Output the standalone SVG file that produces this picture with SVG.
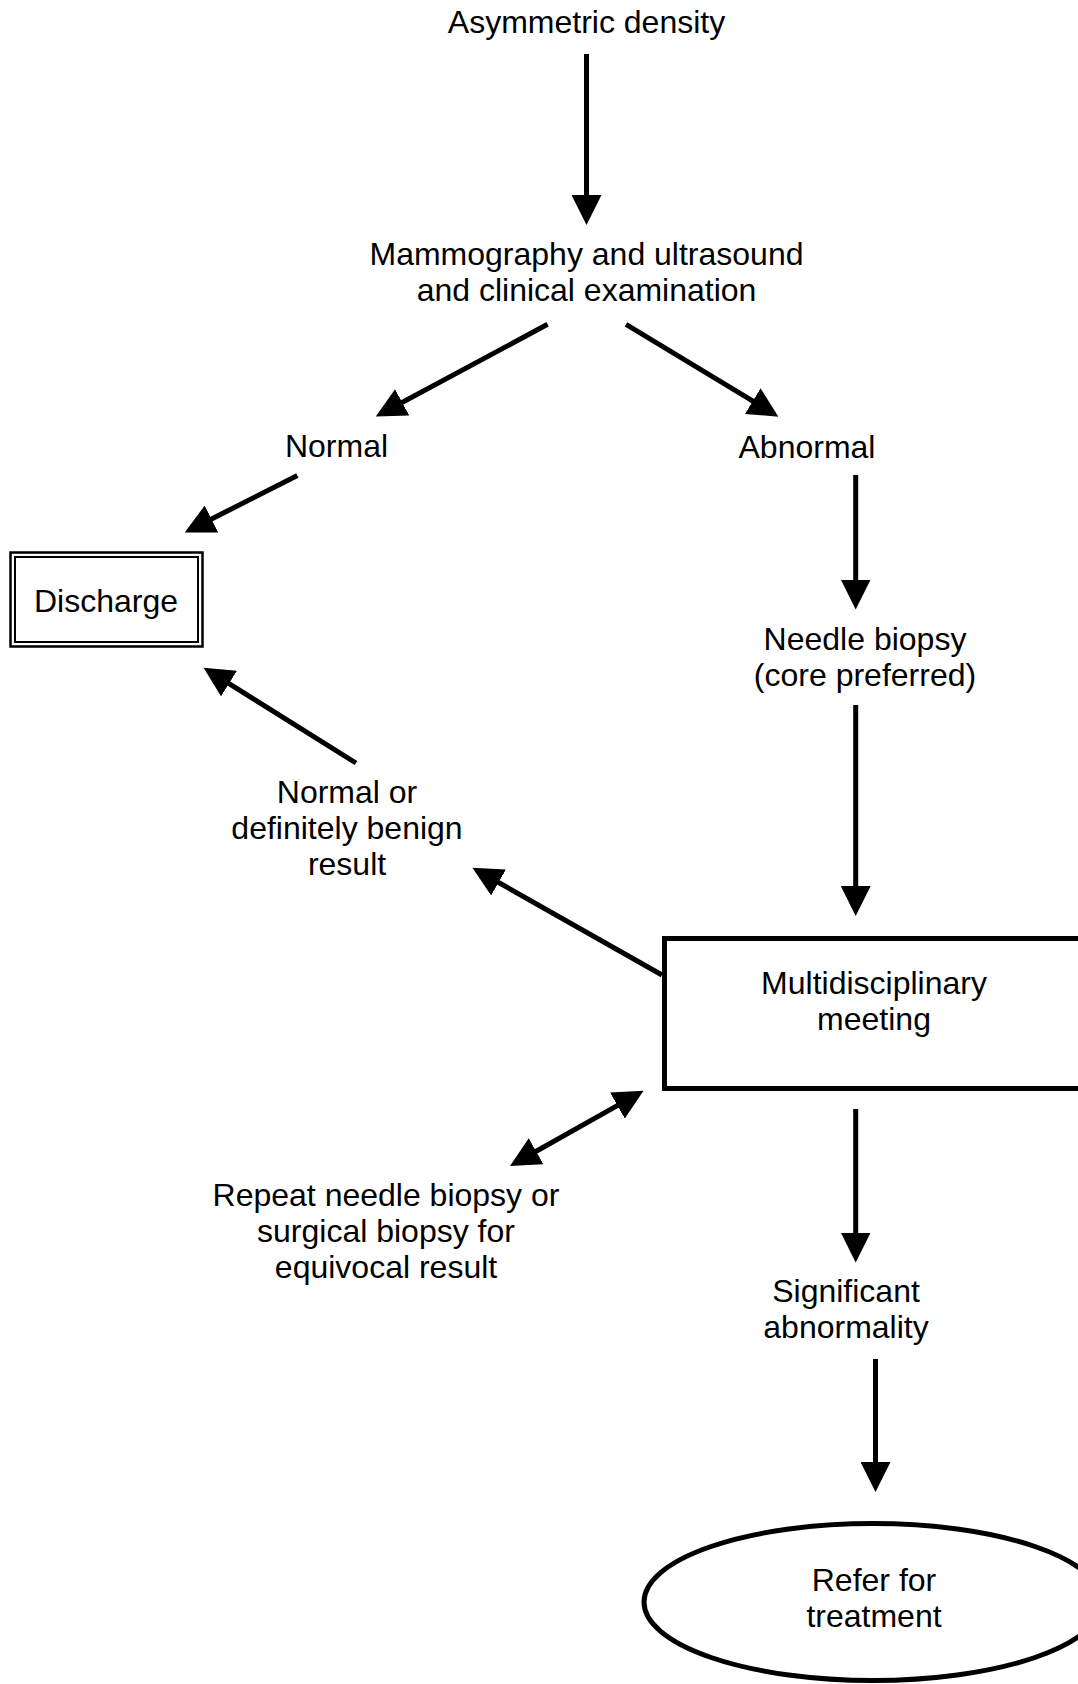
<svg xmlns="http://www.w3.org/2000/svg" width="1078" height="1684" viewBox="0 0 1078 1684">
  <style>
    .lbl { font-family: "Liberation Sans", Arial, sans-serif; font-size: 32px; fill: #000; text-anchor: middle; }
    .box { fill: #fff; stroke: #000; }
    .conn { stroke: #000; stroke-width: 5; fill: none; marker-end: url(#head); }
  </style>
  <defs>
    <marker id="head" markerUnits="userSpaceOnUse" markerWidth="30" markerHeight="30" refX="6" refY="15" orient="auto-start-reverse">
      <path d="M0,0 L30,15 L0,30 Z" fill="#000"/>
    </marker>
  </defs>
  <rect width="1078" height="1684" fill="#fff"/>

  <!-- connectors -->
  <g id="connectors">
    <line class="conn" x1="586.5" y1="54" x2="586.5" y2="201"/>
    <line class="conn" x1="547.6" y1="324.3" x2="396.9" y2="405.2"/>
    <line class="conn" x1="626" y1="324.3" x2="757.9" y2="404.2"/>
    <line class="conn" x1="297.4" y1="475.6" x2="206.1" y2="521.7"/>
    <line class="conn" x1="855.7" y1="475" x2="855.7" y2="585.5"/>
    <line class="conn" x1="855.7" y1="705" x2="855.7" y2="892"/>
    <line class="conn" x1="662" y1="975" x2="493.3" y2="879.5"/>
    <line class="conn" x1="356" y1="763" x2="223.9" y2="680.4"/>
    <line class="conn" x1="530.9" y1="1154.2" x2="622.6" y2="1102.6" marker-start="url(#head)"/>
    <line class="conn" x1="855.7" y1="1109" x2="855.7" y2="1238.5"/>
    <line class="conn" x1="875.5" y1="1359" x2="875.5" y2="1468"/>
  </g>

  <!-- nodes -->
  <g id="asymmetric-density">
    <text class="lbl" x="586.5" y="33">Asymmetric density</text>
  </g>
  <g id="imaging">
    <text class="lbl" x="586.5" y="265">Mammography and ultrasound</text>
    <text class="lbl" x="586.5" y="301">and clinical examination</text>
  </g>
  <g id="normal">
    <text class="lbl" x="336.5" y="457">Normal</text>
  </g>
  <g id="abnormal">
    <text class="lbl" x="807" y="458">Abnormal</text>
  </g>
  <g id="discharge">
    <rect class="box" x="10.5" y="552.5" width="192" height="94" stroke-width="2.5"/>
    <rect class="box" x="15" y="557" width="183" height="85" stroke-width="2"/>
    <text class="lbl" x="106" y="612">Discharge</text>
  </g>
  <g id="needle-biopsy">
    <text class="lbl" x="865" y="649.5">Needle biopsy</text>
    <text class="lbl" x="865" y="685.5">(core preferred)</text>
  </g>
  <g id="benign-result">
    <text class="lbl" x="347" y="803">Normal or</text>
    <text class="lbl" x="347" y="839">definitely benign</text>
    <text class="lbl" x="347" y="875">result</text>
  </g>
  <g id="mdm">
    <rect class="box" x="664.5" y="938.5" width="450" height="150" stroke-width="5"/>
    <text class="lbl" x="874" y="994">Multidisciplinary</text>
    <text class="lbl" x="874" y="1030">meeting</text>
  </g>
  <g id="repeat-biopsy">
    <text class="lbl" x="386" y="1206">Repeat needle biopsy or</text>
    <text class="lbl" x="386" y="1242">surgical biopsy for</text>
    <text class="lbl" x="386" y="1278">equivocal result</text>
  </g>
  <g id="significant">
    <text class="lbl" x="846" y="1301.5">Significant</text>
    <text class="lbl" x="846" y="1338">abnormality</text>
  </g>
  <g id="refer">
    <ellipse class="box" cx="873" cy="1602" rx="229" ry="78.5" stroke-width="5"/>
    <text class="lbl" x="874" y="1591">Refer for</text>
    <text class="lbl" x="874" y="1627">treatment</text>
  </g>
</svg>
